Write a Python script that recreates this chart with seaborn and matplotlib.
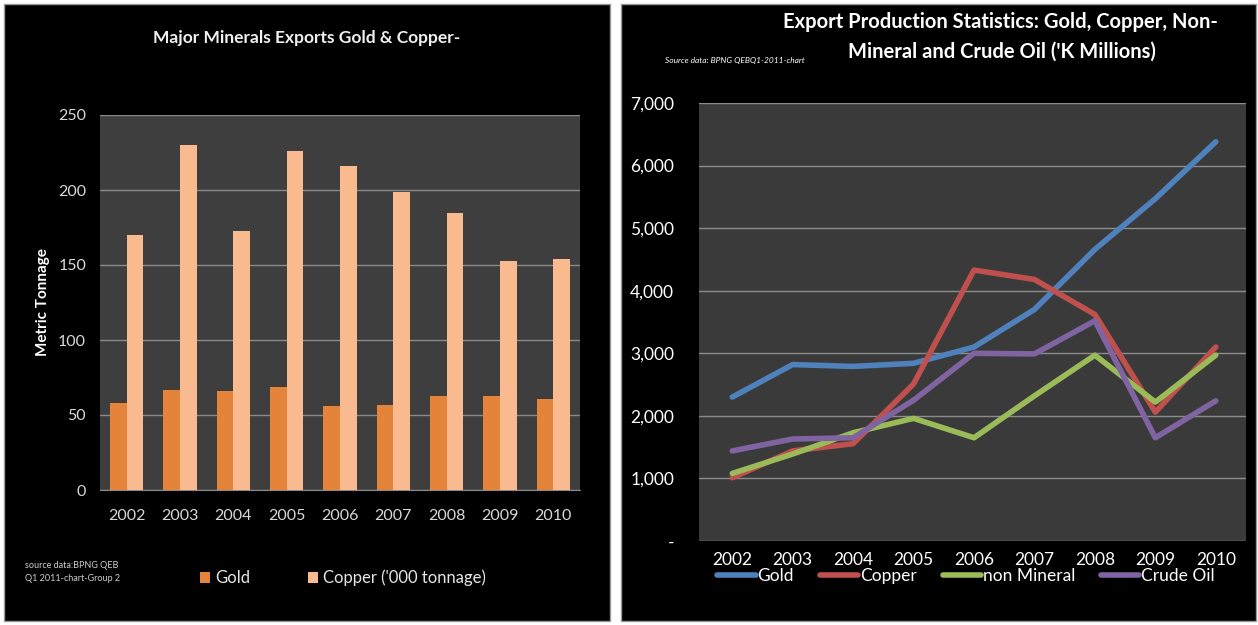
import numpy as np
import pandas as pd
import matplotlib.pyplot as plt
import seaborn as sns
from matplotlib.lines import Line2D
from matplotlib.patches import Patch, Rectangle
from matplotlib.ticker import FuncFormatter

# values
years = [2002, 2003, 2004, 2005, 2006, 2007, 2008, 2009, 2010]
gold_tonnes = [58, 67, 66, 69, 56, 57, 63, 63, 61]
copper_tonnes = [170, 230, 173, 226, 216, 199, 185, 153, 154]

gold_k = [2300, 2820, 2790, 2840, 3100, 3700, 4660, 5470, 6380]
copper_k = [1010, 1440, 1555, 2510, 4330, 4180, 3620, 2060, 3100]
non_mineral_k = [1080, 1390, 1730, 1960, 1650, 2320, 2970, 2220, 2970]
crude_oil_k = [1440, 1630, 1650, 2250, 3000, 2990, 3520, 1650, 2240]

bar_labels = ['Gold', "Copper ('000 tonnage)"]
line_labels = ['Gold', 'Copper', 'non Mineral', 'Crude Oil']

bar_colors = ['#E3843A', '#F8BA8E']
line_colors = ['#4F81BD', '#C0504D', '#9BBB59', '#8064A2']

sns.set_style('dark')
plt.rcParams['font.family'] = ['Lato', 'DejaVu Sans']

W, H = 1258, 625
fig = plt.figure(figsize=(W / 100, H / 100), dpi=100)
fig.patch.set_facecolor('white')


def fx(px):
    return px / W


def fy(py):
    return 1 - py / H


# black panels behind each chart
for x0, x1 in [(4, 610), (621, 1256)]:
    fig.patches.append(Rectangle((fx(x0), fy(621)), fx(x1 - x0), (621 - 4) / H,
                                 transform=fig.transFigure, facecolor='black',
                                 edgecolor='#9a9a9a', linewidth=1, zorder=-10))

# ---------------- left: bar chart ----------------
bars = pd.DataFrame({
    'Year': [str(y) for y in years] * 2,
    'Tonnage': gold_tonnes + copper_tonnes,
    'Mineral': [bar_labels[0]] * len(years) + [bar_labels[1]] * len(years),
})

ax1 = fig.add_axes([fx(100), fy(490), fx(480), (490 - 115) / H])
ax1.set_facecolor('#3E3E3E')
sns.barplot(data=bars, x='Year', y='Tonnage', hue='Mineral', palette=bar_colors,
            width=0.62, ax=ax1, legend=False, saturation=1, zorder=3,
            edgecolor='none', linewidth=0)
ax1.set_ylim(0, 250)
ax1.set_xlim(-0.5, 8.5)
ax1.set_yticks(range(0, 251, 50))
ax1.grid(axis='y', color='#8a8a8a', linewidth=1, zorder=0)
ax1.grid(axis='x', visible=False)
ax1.tick_params(colors='#d9d9d9', labelsize=11.5, length=0, pad=10)
ax1.tick_params(axis='x', pad=14)
ax1.set_xlabel('')
ax1.set_ylabel('Metric Tonnage', color='white', fontsize=11, fontweight='bold', labelpad=6)
for s in ax1.spines.values():
    s.set_visible(False)
ax1.spines['bottom'].set_visible(True)
ax1.spines['bottom'].set_color('#8a8a8a')

fig.text(fx(307), fy(38), 'Major Minerals Exports Gold & Copper-', color='#f0f0f0',
         fontsize=12.5, fontweight='bold', ha='center', va='center')
fig.text(fx(25), fy(572), 'source data:BPNG QEB\nQ1 2011-chart-Group 2', color='#cfcfcf',
         fontsize=6.5, ha='left', va='center', linespacing=1.6)
bar_handles = [Patch(facecolor=c, edgecolor='none') for c in bar_colors]
fig.legend(bar_handles, bar_labels, loc='center', bbox_to_anchor=(fx(343), fy(578)),
           ncol=2, frameon=False, fontsize=12, labelcolor='#e6e6e6',
           handlelength=0.6, handleheight=0.6, handletextpad=0.3, columnspacing=3.5)

# ---------------- right: line chart ----------------
lines = pd.DataFrame({
    'Year': years * 4,
    'Value': gold_k + copper_k + non_mineral_k + crude_oil_k,
    'Series': sum([[lab] * len(years) for lab in line_labels], []),
})

ax2 = fig.add_axes([fx(699), fy(541), fx(547), (541 - 103) / H])
ax2.set_facecolor('#3A3A3A')
sns.lineplot(data=lines, x='Year', y='Value', hue='Series', hue_order=line_labels,
             palette=line_colors, linewidth=4, ax=ax2, legend=False, zorder=3)
ax2.set_xlim(2001.45, 2010.5)
ax2.set_ylim(0, 7000)
ax2.set_yticks(range(0, 7001, 1000))
ax2.set_xticks(years)
ax2.yaxis.set_major_formatter(FuncFormatter(lambda v, p: '-' if v == 0 else f'{int(v):,}'))
ax2.grid(axis='y', color='#8c8c8c', linewidth=1, zorder=0)
ax2.grid(axis='x', visible=False)
ax2.tick_params(colors='white', labelsize=12.5, length=0)
ax2.tick_params(axis='y', pad=18)
ax2.tick_params(axis='x', pad=8)
ax2.set_xlabel('')
ax2.set_ylabel('')
for s in ax2.spines.values():
    s.set_visible(False)

fig.text(fx(1000), fy(22), 'Export Production Statistics: Gold, Copper, Non-', color='white',
         fontsize=14.5, fontweight='bold', ha='center', va='center')
fig.text(fx(1002), fy(52), "Mineral and Crude Oil ('K Millions)", color='white',
         fontsize=14.5, fontweight='bold', ha='center', va='center')
fig.text(fx(665), fy(60), 'Source data: BPNG QEBQ1-2011-chart', color='white',
         fontsize=6, style='italic', ha='left', va='center')
line_handles = [Line2D([0], [0], color=c, linewidth=4) for c in line_colors]
fig.legend(line_handles, line_labels, loc='center', bbox_to_anchor=(fx(966), fy(576)),
           ncol=4, frameon=False, fontsize=12.5, labelcolor='white',
           handlelength=2.2, handletextpad=0.1, columnspacing=1.5)

fig.savefig('out.png', dpi=100, facecolor=fig.get_facecolor())
